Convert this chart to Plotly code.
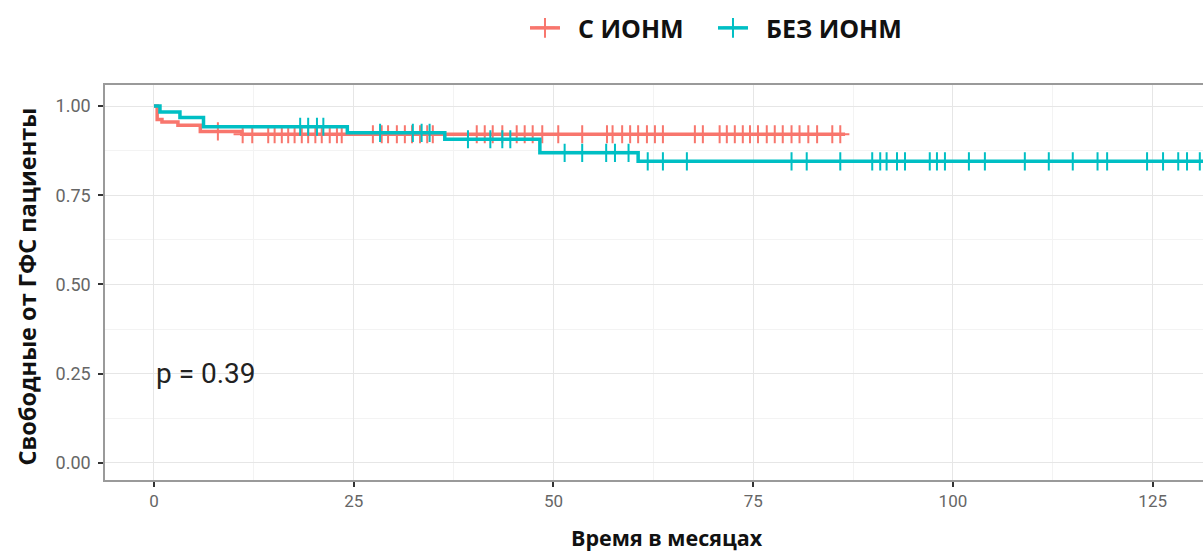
import numpy as np
import plotly.graph_objects as go

# ---- data ----
red_name = "С ИОНМ"
teal_name = "БЕЗ ИОНМ"

red_event_times = [0.4, 1.0, 3.0, 5.8, 11.0]
red_surv = [0.962, 0.955, 0.946, 0.929, 0.921]
red_end = 86.5
red_censor = [8.0, 11.1, 12.3, 14.3, 15.1, 16.0, 16.8, 17.6, 18.5, 19.3, 20.2, 21.0,
              22.0, 22.9, 23.5, 27.4, 28.5, 29.3, 30.4, 31.4, 32.3, 33.3, 34.2, 34.9,
              40.4, 41.4, 42.4, 43.6, 45.4, 46.4, 47.4, 48.6, 50.6, 53.6, 56.7, 57.4,
              58.6, 59.6, 60.6, 61.7, 62.7, 63.7, 67.7, 68.7, 70.8, 71.7, 72.7, 73.7,
              74.6, 75.6, 76.7, 77.7, 78.7, 79.8, 80.8, 81.9, 83.0, 84.9, 85.9]

teal_event_times = [0.75, 3.25, 6.2, 24.2, 36.4, 48.3, 60.6]
teal_surv = [0.983, 0.968, 0.942, 0.925, 0.907, 0.869, 0.845]
teal_end = 140.0
teal_censor = [18.3, 19.3, 20.4, 21.2, 28.3, 32.4, 33.5, 34.5, 39.3, 42.1, 43.6, 44.6,
               51.4, 53.6, 56.6, 57.7, 59.4, 61.8, 63.7, 66.7, 79.8, 81.7, 85.9, 89.9,
               90.9, 91.7, 93.0, 94.0, 97.1, 98.0, 99.0, 102.0, 104.0, 109.0, 112.0,
               115.0, 118.1, 119.3, 124.3, 126.3, 128.2, 129.3, 130.9]

x_ticks = [0, 25, 50, 75, 100, 125]
y_ticks = [0.00, 0.25, 0.50, 0.75, 1.00]
p_text = "p = 0.39"
x_title = "Время в месяцах"
y_title = "Свободные от ГФС пациенты"

RED = "#F8766D"
TEAL = "#00BFC4"


def step_xy(times, surv, end):
    xs = [0.0] + list(times) + [end]
    ys = [1.0] + list(surv) + [surv[-1]]
    return xs, ys


def surv_at(t, times, surv):
    v = 1.0
    for ti, si in zip(times, surv):
        if t >= ti:
            v = si
    return v


fig = go.Figure()

NB = "\u00a0\u00a0"
for name, col, times, surv, end, cens in [
    (red_name, RED, red_event_times, red_surv, red_end, red_censor),
    (teal_name, TEAL, teal_event_times, teal_surv, teal_end, teal_censor),
]:
    xs, ys = step_xy(times, surv, end)
    fig.add_trace(go.Scatter(x=xs, y=ys, mode="lines", line=dict(color=col, width=3.5, shape="hv"),
                             showlegend=False, hoverinfo="skip"))
    fig.add_trace(go.Scatter(x=cens, y=[surv_at(c, times, surv) for c in cens], mode="markers",
                             marker=dict(symbol="cross-thin", size=13, line=dict(color=col, width=2)),
                             showlegend=False, hoverinfo="skip"))
    fig.add_trace(go.Scatter(x=[None], y=[None], mode="lines+markers", name=f"{NB}<b>{name}</b>",
                             line=dict(color=col, width=3.5),
                             marker=dict(symbol="cross-thin", size=14, color=col, line=dict(color=col, width=2))))

fig.add_annotation(x=0, y=0.25, xref="x", yref="y", text=p_text, showarrow=False,
                   xanchor="left", yanchor="middle",
                   font=dict(family="Roboto, Liberation Sans, sans-serif", size=28, color="#222222"))

fig.add_annotation(x=0.512, y=-0.145, xref="paper", yref="paper", text=f"<b>{x_title}</b>",
                   showarrow=False, xanchor="center", yanchor="middle", borderpad=0,
                   font=dict(family="Open Sans, sans-serif", size=21.5, color="#111111"))

fig.add_annotation(x=-0.071, y=0.49, xref="paper", yref="paper", text=f"<b>{y_title}</b>",
                   showarrow=False, xanchor="center", yanchor="middle", textangle=-90,
                   font=dict(family="Open Sans, sans-serif", size=23.5, color="#111111"))

fig.update_layout(
    width=1203, height=551,
    margin=dict(l=105, r=0, t=85, b=71, autoexpand=False),
    paper_bgcolor="white", plot_bgcolor="white",
    legend=dict(orientation="h", x=0.3825, xanchor="left", y=1.144, yanchor="middle",
                font=dict(family="Open Sans, sans-serif", size=25, color="#111111"),
                traceorder="normal", entrywidthmode="pixels", entrywidth=143),
    font=dict(family="Open Sans, sans-serif"),
)

fig.update_xaxes(range=[-6.13, 131.3], tickvals=x_ticks, ticktext=[str(v) for v in x_ticks],
                 showgrid=True, gridcolor="#E6E6E6", gridwidth=1.2,
                 minor=dict(tickvals=[12.5, 37.5, 62.5, 87.5, 112.5], showgrid=True,
                            gridcolor="#F3F3F3", gridwidth=0.8),
                 showline=True, linecolor="#9A9A9A", linewidth=1.5, mirror=True,
                 ticks="outside", ticklen=5, tickwidth=1.5, tickcolor="#333333",
                 tickfont=dict(family="Roboto, sans-serif", size=17, color="#666666"),
                 automargin=False, zeroline=False)
fig.update_yaxes(range=[-0.048, 1.059], tickvals=y_ticks, ticktext=[f"{v:.2f}" for v in y_ticks],
                 showgrid=True, gridcolor="#E6E6E6", gridwidth=1.2,
                 minor=dict(tickvals=[0.125, 0.375, 0.625, 0.875], showgrid=True,
                            gridcolor="#F3F3F3", gridwidth=0.8),
                 showline=True, linecolor="#9A9A9A", linewidth=1.5, mirror=False,
                 ticks="outside", ticklen=5, tickwidth=1.5, tickcolor="#333333",
                 ticklabelstandoff=4,
                 tickfont=dict(family="Roboto, sans-serif", size=18, color="#666666"),
                 automargin=False, zeroline=False)

fig.write_html("out.html", config={"displayModeBar": False},
               post_script="document.body.style.margin='0';document.body.style.overflow='hidden';")
